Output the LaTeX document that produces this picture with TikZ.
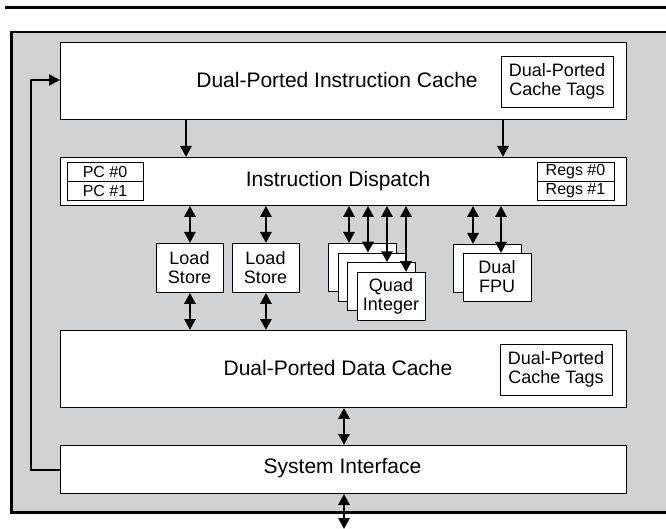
\documentclass[tikz,border=0pt]{standalone}
\usepackage{fontspec}
\setmainfont{Liberation Sans}
\usetikzlibrary{arrows.meta}
\definecolor{panelgray}{RGB}{209,210,212}
\tikzset{
  box/.style={draw=black, line width=0.9pt, fill=white, rectangle, inner sep=0pt, anchor=north west},
  bigtext/.style={inner sep=0pt, font=\fontsize{21}{23}\selectfont},
  midtext/.style={inner sep=0pt, align=center, font=\fontsize{18}{19}\selectfont},
  smalltext/.style={inner sep=0pt, font=\fontsize{16}{17}\selectfont},
  arr/.style={line width=2.8pt, -{Triangle[length=11pt,width=11pt]}},
  darr/.style={line width=2.8pt, {Triangle[length=11pt,width=11pt]}-{Triangle[length=11pt,width=11pt]}},
  fb/.style={line width=2.8pt}
}
\begin{document}
\begin{tikzpicture}[x=1pt,y=-1pt]
\useasboundingbox (0,0) rectangle (666,529);
% top rule
\draw[line width=3.2pt] (5,7.5) -- (667,7.5);
% gray panel
\fill[panelgray] (11.5,32) rectangle (670,512.5);
\draw[line width=2.8pt] (670,32) -- (11.5,32) -- (11.5,512.5) -- (670,512.5);

% instruction cache
\node[box, minimum width=566pt, minimum height=77pt] (icache) at (60,42) {};
\node[bigtext] (icachet) at (337,80) {Dual-Ported Instruction Cache};
\node[box, minimum width=112pt, minimum height=51pt] (itags) at (501,56) {};
\node[midtext] (itagst) at (557,81) {Dual-Ported\\Cache Tags};

% dispatch
\node[box, minimum width=566pt, minimum height=48pt] (disp) at (60,157) {};
\node[bigtext] (dispt) at (338,181) {Instruction Dispatch};
\node[box, minimum width=76pt, minimum height=19pt] (pc0) at (67,162) {};
\node[box, minimum width=76pt, minimum height=19pt] (pc1) at (67,181) {};
\node[smalltext] (pc0t) at (105,171.5) {PC \#0};
\node[smalltext] (pc1t) at (105,190.5) {PC \#1};
\node[box, minimum width=77pt, minimum height=19pt] (rg0) at (537,162) {};
\node[box, minimum width=77pt, minimum height=19pt] (rg1) at (537,181) {};
\node[smalltext] (rg0t) at (575.5,171.5) {Regs \#0};
\node[smalltext] (rg1t) at (575.5,190.5) {Regs \#1};

% load/store units
\node[box, minimum width=67pt, minimum height=49pt] (ls1) at (156,243) {};
\node[midtext] (ls1t) at (189.5,267.5) {Load\\Store};
\node[box, minimum width=67pt, minimum height=49pt] (ls2) at (232,243) {};
\node[midtext] (ls2t) at (265.5,267.5) {Load\\Store};

% quad integer
\node[box, minimum width=68pt, minimum height=48pt] (q1) at (328,243) {};
\node[box, minimum width=68pt, minimum height=48pt] (q2) at (337.7,252.7) {};
\node[box, minimum width=68pt, minimum height=48pt] (q3) at (347.3,262.3) {};
\node[box, minimum width=68pt, minimum height=48pt] (q4) at (357,272) {};
\node[midtext] (q4t) at (391,296) {Quad\\Integer};

% dual FPU
\node[box, minimum width=68pt, minimum height=48pt] (f1) at (453,244) {};
\node[box, minimum width=68pt, minimum height=48pt] (f2) at (463,253) {};
\node[midtext] (f2t) at (497,277) {Dual\\FPU};

% data cache
\node[box, minimum width=566pt, minimum height=77pt] (dcache) at (60,330) {};
\node[bigtext] (dcachet) at (338,367.5) {Dual-Ported Data Cache};
\node[box, minimum width=112pt, minimum height=51pt] (dtags) at (500,344) {};
\node[midtext] (dtagst) at (556,369) {Dual-Ported\\Cache Tags};

% system interface
\node[box, minimum width=566pt, minimum height=48pt] (sysif) at (60,445) {};
\node[bigtext] (sysift) at (342.5,468) {System Interface};
\coordinate (ext) at (344,529);

% connectors
\draw[arr] (icache.south -| 186,0) -- (disp.north -| 186,0);
\draw[arr] (icache.south -| 503,0) -- (disp.north -| 503,0);

\draw[darr] (disp.south -| ls1.north) -- (ls1.north);
\draw[darr] (disp.south -| ls2.north) -- (ls2.north);
\draw[darr] (disp.south -| 349,0) -- (q1.north -| 349,0);
\draw[darr] (disp.south -| 368,0) -- (q2.north -| 368,0);
\draw[darr] (disp.south -| 387,0) -- (q3.north -| 387,0);
\draw[darr] (disp.south -| 406,0) -- (q4.north -| 406,0);
\draw[darr] (disp.south -| 473,0) -- (f1.north -| 473,0);
\draw[darr] (disp.south -| 501,0) -- (f2.north -| 501,0);

\draw[darr] (ls1.south) -- (dcache.north -| ls1.south);
\draw[darr] (ls2.south) -- (dcache.north -| ls2.south);

\draw[darr] (dcache.south -| ext) -- (sysif.north -| ext);
\draw[darr] (sysif.south -| ext) -- (ext);

% feedback path
\draw[fb, -{Triangle[length=11pt,width=11pt]}] (sysif.west |- 0,470) -- (31,470) -- (31,80) -- (icache.west |- 0,80);
\end{tikzpicture}
\end{document}
